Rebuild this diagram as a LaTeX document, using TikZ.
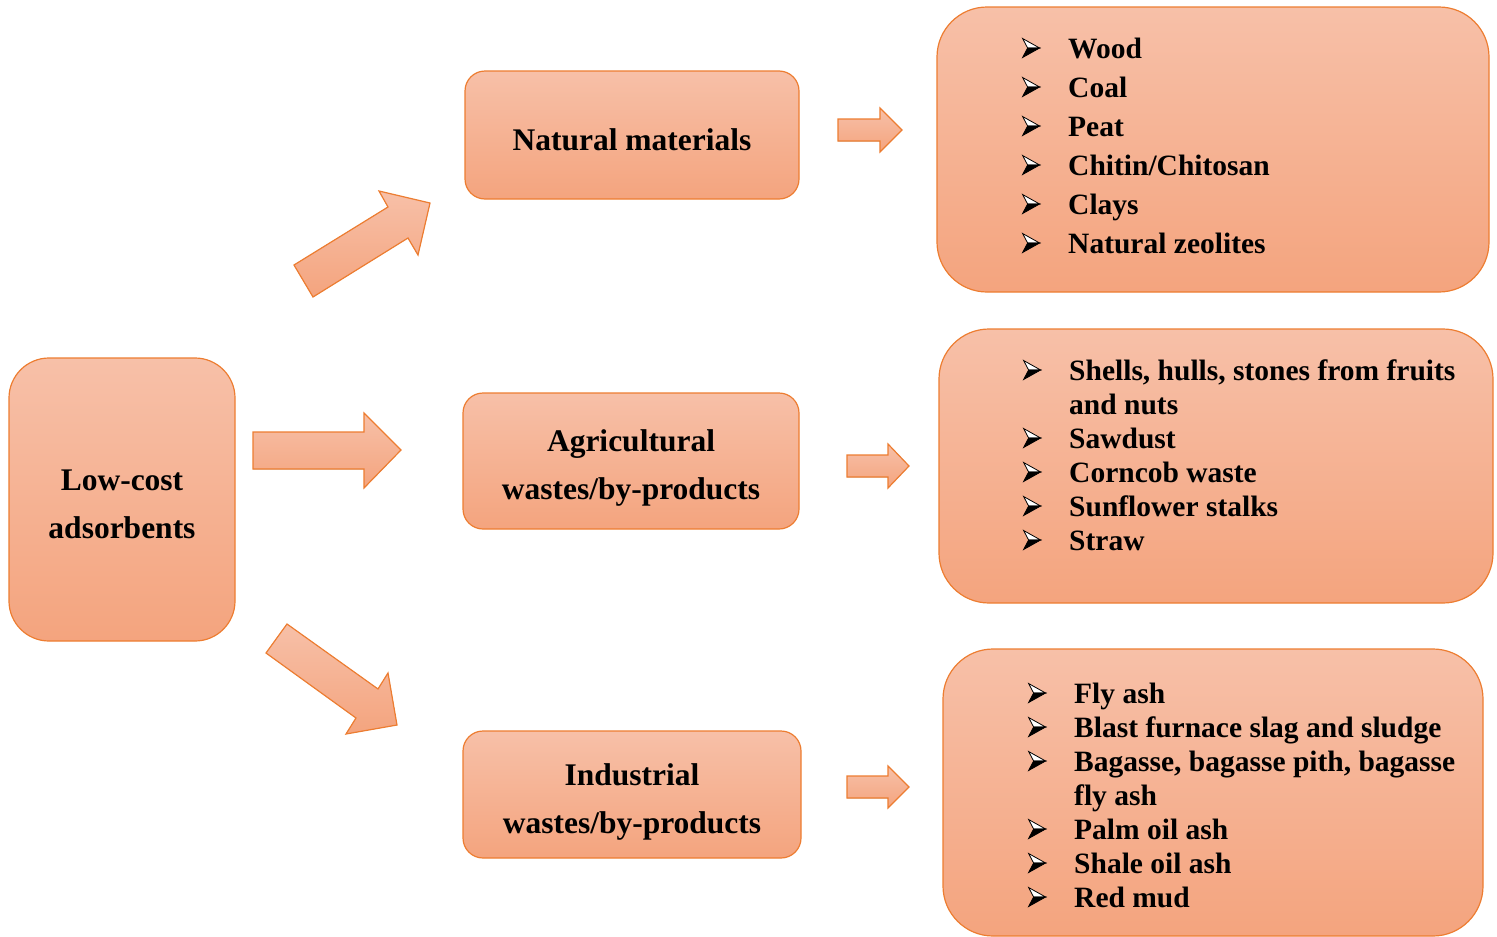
\documentclass[tikz,border=0pt]{standalone}
\usepackage{fontspec}
\setmainfont{Liberation Serif}
\definecolor{edge}{RGB}{237,125,49}
\definecolor{filltop}{RGB}{247,192,168}
\definecolor{fillbot}{RGB}{244,164,126}
\tikzset{
  panel/.style={draw=edge, line width=1.2pt, top color=filltop, bottom color=fillbot, inner sep=0pt},
  blockarrow/.style={draw=edge, line width=1.2pt, top color=filltop, bottom color=fillbot, line join=miter},
  head/.style={font=\fontsize{31.5}{48}\selectfont\bfseries, anchor=base, inner sep=0pt},
  listA/.style={font=\fontsize{29.5}{39}\selectfont\bfseries, anchor=base west, inner sep=0pt},
  listB/.style={font=\fontsize{29.5}{34}\selectfont\bfseries, anchor=base west, inner sep=0pt},
}
% arrowhead bullet: light upper facet, dark lower facet
\newcommand\arrowbullet{\tikz[x=1pt,y=1pt,baseline=0pt,line width=0.8pt,line join=miter]{%
  \filldraw[draw=black, fill=white] (0,19.5) -- (17,10) -- (5,10) -- cycle;
  \filldraw[black] (5,10) -- (17,10) -- (0,0.5) -- cycle;}}
\newcommand\blt{\makebox[46pt][l]{\arrowbullet}}
\begin{document}
\begin{tikzpicture}[x=1pt, y=-1pt]
\useasboundingbox (0,0) rectangle (1497,937);

% boxes
\node[panel, rounded corners=40pt, minimum width=226pt, minimum height=283pt] (low) at (122,499.5) {};
\node[panel, rounded corners=20pt, minimum width=334pt, minimum height=128pt] (nat) at (632,135) {};
\node[panel, rounded corners=20pt, minimum width=336pt, minimum height=136pt] (agr) at (631,461) {};
\node[panel, rounded corners=20pt, minimum width=338pt, minimum height=127pt] (ind) at (632,794.5) {};
\node[panel, rounded corners=50pt, minimum width=552pt, minimum height=285pt] (natlist) at (1213,149.5) {};
\node[panel, rounded corners=50pt, minimum width=554pt, minimum height=274pt] (agrlist) at (1216,466) {};
\node[panel, rounded corners=50pt, minimum width=540pt, minimum height=287pt] (indlist) at (1213,792.5) {};

% block arrows
\filldraw[blockarrow] (294,265) -- (388,207) -- (379,191) -- (430,203) -- (418,255) -- (408,238) -- (313,297) -- cycle;
\filldraw[blockarrow] (253,432) -- (364,432) -- (364,413) -- (401,450) -- (364,488) -- (364,469) -- (253,469) -- cycle;
\filldraw[blockarrow] (266,653) -- (287,624) -- (378,689) -- (388,673) -- (397,725) -- (346,734) -- (356,718) -- cycle;
\filldraw[blockarrow] (838,119) -- (880,119) -- (880,108) -- (902,130) -- (880,152) -- (880,141) -- (838,141) -- cycle;
\filldraw[blockarrow] (847,455) -- (888,455) -- (888,444) -- (909,466) -- (888,488) -- (888,477) -- (847,477) -- cycle;
\filldraw[blockarrow] (847,776) -- (888,776) -- (888,766) -- (909,787) -- (888,808) -- (888,798) -- (847,798) -- cycle;

% headings
\node[head] (lowT) at (122,490) {\begin{tabular}[t]{@{}c@{}}Low-cost\\adsorbents\end{tabular}};
\node[head] (natT) at (632,150) {Natural materials};
\node[head] (agrT) at (631,451) {\begin{tabular}[t]{@{}c@{}}Agricultural\\wastes/by-products\end{tabular}};
\node[head] (indT) at (632,785) {\begin{tabular}[t]{@{}c@{}}Industrial\\wastes/by-products\end{tabular}};

% lists
\node[listA] (natL) at (1022,58) {\begin{tabular}[t]{@{}l@{}}
\blt Wood\\
\blt Coal\\
\blt Peat\\
\blt Chitin/Chitosan\\
\blt Clays\\
\blt Natural zeolites
\end{tabular}};
\node[listB] (agrL) at (1023,380) {\begin{tabular}[t]{@{}l@{}}
\blt Shells, hulls, stones from fruits\\
\hspace*{46pt}and nuts\\
\blt Sawdust\\
\blt Corncob waste\\
\blt Sunflower stalks\\
\blt Straw
\end{tabular}};
\node[listB] (indL) at (1028,703) {\begin{tabular}[t]{@{}l@{}}
\blt Fly ash\\
\blt Blast furnace slag and sludge\\
\blt Bagasse, bagasse pith, bagasse\\
\hspace*{46pt}fly ash\\
\blt Palm oil ash\\
\blt Shale oil ash\\
\blt Red mud
\end{tabular}};
\end{tikzpicture}
\end{document}
